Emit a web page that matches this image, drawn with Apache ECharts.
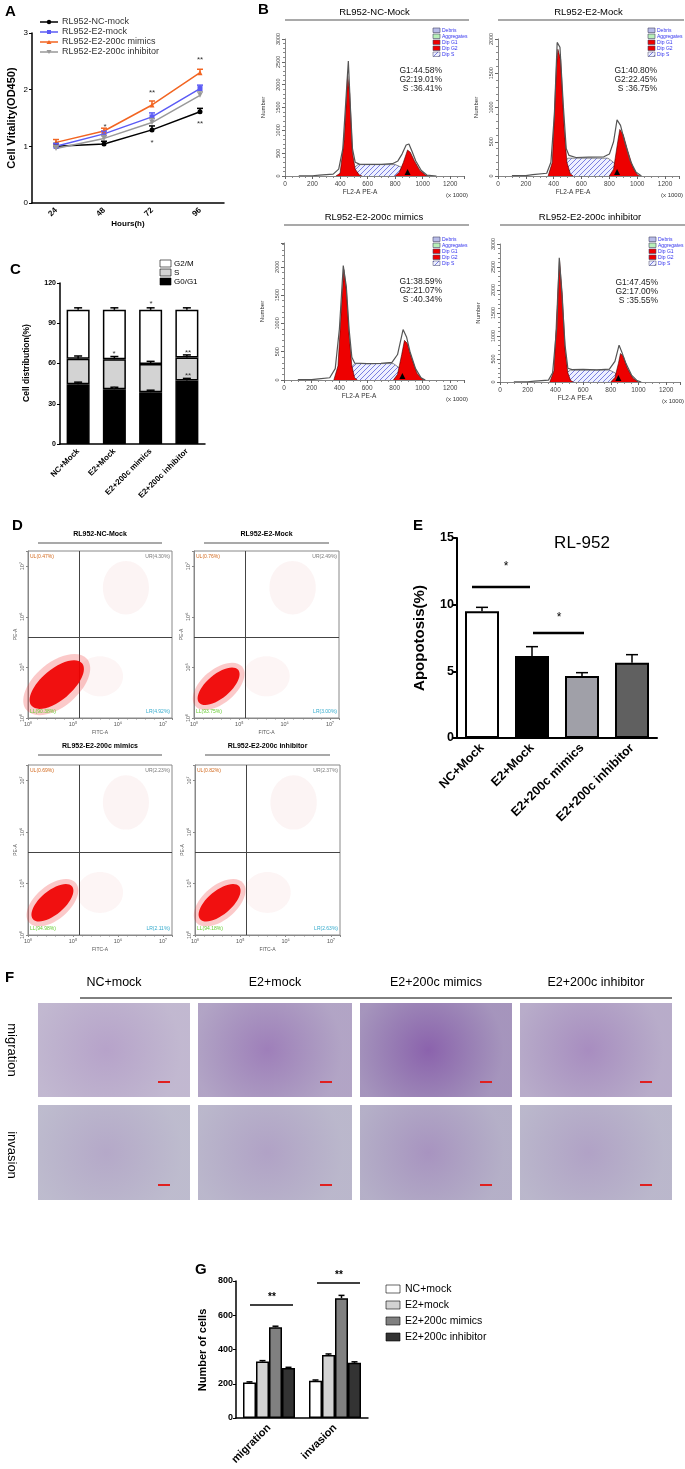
<!DOCTYPE html>
<html><head><meta charset="utf-8">
<script src="https://cdn.jsdelivr.net/npm/echarts@6/dist/echarts.min.js"></script>
<style>html,body{margin:0;padding:0;background:#fff}#c{width:685px;height:1469px}</style>
</head><body><div id="c"></div>
<script>
// ---------- DATA ----------
var hours = ['24','48','72','96'];
var vitNC = [1.0, 1.04, 1.29, 1.61];
var vitE2 = [1.0, 1.22, 1.52, 2.02];
var vitMim = [1.07, 1.27, 1.73, 2.30];
var vitInh = [0.96, 1.14, 1.42, 1.90];
var vitErr = [0.05, 0.05, 0.07, 0.06];
var groupsC = ['NC+Mock','E2+Mock','E2+200c mimics','E2+200c inhibitor'];
var g0g1 = [44.6, 40.8, 38.6, 47.4];
var sPhase = [19.0, 22.4, 21.0, 17.0];
var g2m = [36.4, 36.8, 40.4, 35.6];
var cErr = [1.5, 2, 1.5];
var histNames = ['RL952-NC-Mock','RL952-E2-Mock','RL952-E2-200c mimics','RL952-E2-200c inhibitor'];
var histStats = [['G1:44.58%','G2:19.01%','S :36.41%'],['G1:40.80%','G2:22.45%','S :36.75%'],['G1:38.59%','G2:21.07%','S :40.34%'],['G1:47.45%','G2:17.00%','S :35.55%']];
var histMax = [3000, 2000, 2420, 3000];
var envNC = [[100,5],[200,5],[250,20],[350,40],[390,150],[420,600],[445,1800],[460,2520],[475,1500],[490,600],[510,300],[540,260],[600,255],[700,255],[780,270],[820,330],[850,480],[880,680],[900,700],[920,560],[950,330],[990,120],[1030,20],[1100,0]];
var g1NC = [[370,0],[400,60],[430,800],[455,2200],[470,1800],[490,500],[510,150],[540,20],[560,0]];
var g2NC = [[800,0],[830,80],[860,300],[890,570],[910,520],[940,330],[980,120],[1020,20],[1040,0]];
var sNC = [[470,0],[500,180],[530,250],[600,250],[700,250],[800,250],[840,200],[880,100],[920,20],[940,0]];
var envE2 = [[100,5],[200,5],[250,20],[350,40],[380,200],[405,900],[425,1950],[445,1880],[470,1000],[490,400],[510,300],[560,270],[650,275],[760,280],[800,320],[830,500],[855,820],[880,740],[910,500],[950,220],[990,60],[1030,0]];
var g1E2 = [[360,0],[390,200],[420,1600],[430,1850],[450,1700],[475,700],[495,200],[520,30],[540,0]];
var g2E2 = [[800,0],[830,100],[860,500],[875,680],[900,600],[930,380],[970,120],[1000,20],[1020,0]];
var sE2 = [[440,0],[470,150],[500,260],[600,260],[700,260],[790,260],[830,200],[870,100],[910,20],[930,0]];
var envMim = [[100,5],[200,5],[250,20],[330,40],[370,200],[400,900],[428,2020],[450,1650],[470,900],[490,400],[510,300],[600,290],[700,295],[780,310],[820,450],[860,890],[885,760],[910,500],[950,200],[990,40],[1020,0]];
var g1Mim = [[360,0],[390,250],[420,1500],[432,1950],[450,1600],[470,800],[490,250],[510,40],[530,0]];
var g2Mim = [[790,0],[820,100],[850,450],[870,700],[890,650],[920,400],[960,120],[1000,10],[1020,0]];
var sMim = [[440,0],[480,200],[510,290],[600,290],[700,290],[790,290],[830,220],[870,100],[900,20],[920,0]];
var envInh = [[100,5],[200,5],[250,20],[350,40],[380,200],[410,1200],[428,2700],[445,2000],[470,800],[490,300],[520,270],[600,275],[700,265],[790,280],[830,450],[860,800],[880,650],[910,400],[950,150],[990,30],[1020,0]];
var g1Inh = [[360,0],[390,250],[418,2000],[430,2650],[450,1900],[470,700],[490,200],[510,30],[530,0]];
var g2Inh = [[800,0],[830,100],[855,400],[870,620],[890,560],[920,300],[960,80],[1000,0]];
var sInh = [[440,0],[480,200],[510,260],[600,260],[700,260],[790,260],[830,200],[870,80],[900,10],[920,0]];
var quadLabels = [['UL(0.47%)','UR(4.30%)','LL(90.38%)','LR(4.92%)'],['UL(0.76%)','UR(2.49%)','LL(93.75%)','LR(3.00%)'],['UL(0.69%)','UR(2.23%)','LL(94.98%)','LR(2.11%)'],['UL(0.82%)','UR(2.37%)','LL(94.18%)','LR(2.63%)']];
var apop = [9.5, 6.15, 4.65, 5.65];
var apopErr = [0.3, 0.7, 0.25, 0.6];
var groupsF = ['NC+mock','E2+mock','E2+200c mimics','E2+200c inhibitor'];
var assays = ['migration','invasion'];
var cellsNC = [207, 218];
var cellsE2 = [330, 368];
var cellsMim = [530, 700];
var cellsInh = [292, 322];
var cellsErr = [[4,4],[5,6],[6,16],[4,6]];

// ---------- HELPERS ----------
var F = 'Liberation Sans, Arial, sans-serif';
var hatch = document.createElement('canvas'); hatch.width = 5; hatch.height = 5;
(function(){var x=hatch.getContext('2d');x.fillStyle='#eef0ff';x.fillRect(0,0,5,5);x.strokeStyle='#5b62d8';x.lineWidth=0.8;x.beginPath();x.moveTo(0,5);x.lineTo(5,0);x.stroke();})();

function errSeries(xi, yi, vals, errs, offset, capW, color){
  return {type:'custom', xAxisIndex:xi, yAxisIndex:yi, z:5, silent:true,
    data: vals.map(function(v,i){return [i, v, v+errs[i]];}),
    renderItem:function(p,api){
      var a=api.coord([api.value(0),api.value(1)]), b=api.coord([api.value(0),api.value(2)]);
      var x=a[0]+(offset||0);
      return {type:'group',children:[
        {type:'line',shape:{x1:x,y1:a[1],x2:x,y2:b[1]},style:{stroke:color||'#000',lineWidth:1.5}},
        {type:'line',shape:{x1:x-capW,y1:b[1],x2:x+capW,y2:b[1]},style:{stroke:color||'#000',lineWidth:1.5}}]};
    }};
}
function txt(x,y,t,o){o=o||{};return {type:'text',x:x,y:y,rotation:o.rot||0,z:50,style:{text:t,font:(o.w||'normal')+' '+(o.s||10)+'px '+F,fill:o.c||'#000',textAlign:o.a||'left',textVerticalAlign:o.v||'middle'}};}
function ln(x1,y1,x2,y2,w,c){return {type:'line',z:50,shape:{x1:x1,y1:y1,x2:x2,y2:y2},style:{stroke:c||'#000',lineWidth:w||1}};}
function rc(x,y,w,h,fill,stroke){return {type:'rect',z:50,shape:{x:x,y:y,width:w,height:h},style:{fill:fill,stroke:stroke||null,lineWidth:0.6}};}

var grids=[], xAxes=[], yAxes=[], series=[], G=[];
var axisBlack={lineStyle:{color:'#000',width:1.5}};

// ---------- A ----------
grids.push({left:32, top:33, width:192, height:170});
xAxes.push({gridIndex:0,type:'category',data:hours,axisLine:axisBlack,axisTick:{lineStyle:{color:'#000',width:1.5},alignWithLabel:true},axisLabel:{rotate:45,fontFamily:F,fontWeight:'bold',fontSize:8,color:'#000',margin:6}});
yAxes.push({gridIndex:0,type:'value',min:0,max:3,interval:1,splitLine:{show:false},axisLine:{show:true,lineStyle:{color:'#000',width:1.5}},axisTick:{show:true,length:3},axisLabel:{fontFamily:F,fontSize:8,color:'#000',margin:4}});
var aCol=['#000','#5b5bf5','#f26522','#999'], aSym=['circle','rect','triangle','triangle'], aNames=['RL952-NC-mock','RL952-E2-mock','RL952-E2-200c mimics','RL952-E2-200c inhibitor'];
[vitNC,vitE2,vitMim,vitInh].forEach(function(d,i){
  series.push({type:'line',name:aNames[i],xAxisIndex:0,yAxisIndex:0,data:d,symbol:aSym[i],symbolRotate:i==3?180:0,symbolSize:5,itemStyle:{color:aCol[i]},lineStyle:{color:aCol[i],width:1.5},z:4});
  series.push(errSeries(0,0,d,vitErr,0,3,aCol[i]));
  G.push(ln(40,22+i*10,58,22+i*10,1.5,aCol[i]));
  G.push(txt(62,22+i*10,aNames[i],{s:9,c:'#333'}));
});
G.push({type:'circle',z:51,shape:{cx:49,cy:22,r:2.2},style:{fill:'#000'}});
G.push(rc(47,30,4,4,'#5b5bf5'));
G.push({type:'polygon',z:51,shape:{points:[[49,40],[46.5,44],[51.5,44]]},style:{fill:'#f26522'}});
G.push({type:'polygon',z:51,shape:{points:[[49,54],[46.5,50],[51.5,50]]},style:{fill:'#999'}});
G.push(txt(12,118,'Cell Vitality(OD450)',{rot:Math.PI/2,w:'bold',s:11,a:'center'}));
G.push(txt(128,224,'Hours(h)',{w:'bold',s:8,a:'center'}));
[[105,127,'*'],[152,93,'**'],[152,143,'*'],[200,60,'**'],[200,124,'**']].forEach(function(s){G.push(txt(s[0],s[1],s[2],{s:8,c:'#333',a:'center'}));});
G.push(txt(5,12,'A',{w:'bold',s:15}));

// ---------- B ----------
var hLayout=[[285,39,464,176],[498,39,679,176],[284,243,464,380],[500,244,680,382]];
var hData=[[envNC,g1NC,g2NC,sNC],[envE2,g1E2,g2E2,sE2],[envMim,g1Mim,g2Mim,sMim],[envInh,g1Inh,g2Inh,sInh]];
hLayout.forEach(function(L,k){
  var gi=grids.length;
  grids.push({left:L[0],top:L[1],width:L[2]-L[0],height:L[3]-L[1]});
  xAxes.push({gridIndex:gi,type:'value',min:0,max:1300,interval:200,splitLine:{show:false},axisLine:{lineStyle:{color:'#666',width:0.8}},axisTick:{length:3,lineStyle:{color:'#666'}},minorTick:{show:true,splitNumber:4,length:2,lineStyle:{color:'#888'}},axisLabel:{fontFamily:F,fontSize:6.5,color:'#444',margin:5,formatter:function(v){return v>1200?'':String(v);}}});
  yAxes.push({gridIndex:gi,type:'value',min:0,max:histMax[k],interval:500,splitLine:{show:false},axisLine:{show:true,lineStyle:{color:'#666',width:0.8}},axisTick:{show:true,length:3,lineStyle:{color:'#666'}},minorTick:{show:true,splitNumber:5,length:2,lineStyle:{color:'#888'}},axisLabel:{fontFamily:F,fontSize:5.5,color:'#444',rotate:90,margin:4,formatter:function(v){return v%500?'':String(v);}}});
  var d=hData[k];
  series.push({type:'line',xAxisIndex:gi,yAxisIndex:gi,data:d[3],symbol:'none',lineStyle:{color:'#444',width:0.6},areaStyle:{color:{image:hatch,repeat:'repeat'},opacity:1},z:2});
  series.push({type:'line',xAxisIndex:gi,yAxisIndex:gi,data:d[1],symbol:'none',lineStyle:{color:'#400',width:0.6},areaStyle:{color:'#ee0000',opacity:1},z:3});
  series.push({type:'line',xAxisIndex:gi,yAxisIndex:gi,data:d[2],symbol:'none',lineStyle:{color:'#400',width:0.6},areaStyle:{color:'#ee0000',opacity:1},z:3});
  series.push({type:'line',xAxisIndex:gi,yAxisIndex:gi,data:d[0],symbol:'none',lineStyle:{color:'#555',width:1.2},z:4});
  var cx=(L[0]+L[2])/2;
  var tY = k<2?12:217;
  G.push(txt(cx,tY,histNames[k],{s:9.5,a:'center'}));
  G.push(ln(L[0],tY+8,L[2]+5,tY+8,1.2,'#555'));
  var lx=L[2]-31, ly=tY+16+(k<2?0:4);
  var lc=['#b8bce8','#b8f0b8','#ee0000','#ee0000',null], ln2=['Debris','Aggregates','Dip G1','Dip G2','Dip S'];
  for(var j=0;j<5;j++){
    G.push(j==4?{type:'rect',z:50,shape:{x:lx,y:ly+j*6,width:7,height:4.5},style:{fill:{image:hatch,repeat:'repeat'},stroke:'#446',lineWidth:0.5}}:rc(lx,ly+j*6,7,4.5,lc[j],'#446'));
    G.push(txt(lx+9,ly+j*6+2.3,ln2[j],{s:5,c:'#3333ee'}));
  }
  var sx=L[2]-22, sy=L[1]+32+(k>1?7:0);
  histStats[k].forEach(function(s,j){G.push(txt(sx,sy+j*9,s,{s:8.5,c:'#222',a:'right'}));});
  G.push(txt(L[0]+75,L[3]+16,'FL2-A PE-A',{s:6.5,c:'#333',a:'center'}));
  G.push(txt(L[2]-7,L[3]+19,'(x 1000)',{s:6,c:'#333',a:'center'}));
  G.push(txt(L[0]-22,(L[1]+L[3])/2,'Number',{s:6,c:'#333',a:'center',rot:Math.PI/2}));
  var mx=L[0]+(L[2]-L[0])*( (k==0?890:855)/1300);
  G.push({type:'polygon',z:51,shape:{points:[[mx,L[3]-7],[mx-3,L[3]-1],[mx+3,L[3]-1]]},style:{fill:'#000'}});
});
G.push(txt(258,10,'B',{w:'bold',s:15}));

// ---------- C ----------
var ci=grids.length;
grids.push({left:60,top:283,width:145,height:161});
xAxes.push({gridIndex:ci,type:'category',data:groupsC,axisLine:axisBlack,axisTick:{alignWithLabel:true,lineStyle:{color:'#000',width:1.5}},axisLabel:{rotate:45,interval:0,fontFamily:F,fontWeight:'bold',fontSize:8,color:'#000',margin:6}});
yAxes.push({gridIndex:ci,type:'value',min:0,max:120,interval:30,splitLine:{show:false},axisLine:{show:true,lineStyle:{color:'#000',width:1.5}},axisTick:{show:true,length:3},axisLabel:{fontFamily:F,fontSize:7,fontWeight:'bold',color:'#000',margin:4}});
var cCols=['#000','#d3d3d3','#fff'];
var s1=g0g1.map(function(v,i){return v+sPhase[i];}), s2=s1.map(function(v,i){return v+g2m[i];});
[g0g1,sPhase,g2m].forEach(function(d,j){
  series.push({type:'bar',stack:'c',xAxisIndex:ci,yAxisIndex:ci,data:d,barWidth:23,itemStyle:{color:cCols[j],borderColor:'#000',borderWidth:1.5},z:3});
});
[g0g1,s1,s2].forEach(function(d,j){series.push(errSeries(ci,ci,d,d.map(function(){return cErr[j];}),0,4,'#000'));});
G.push(rc(160,260,11,7,'#fff','#000'),rc(160,269,11,7,'#d3d3d3','#000'),rc(160,278,11,7,'#000','#000'));
G.push(txt(174,263.5,'G2/M',{s:8}),txt(174,272.5,'S',{s:8}),txt(174,281.5,'G0/G1',{s:8}));
G.push(txt(27,363,'Cell distribution(%)',{rot:Math.PI/2,w:'bold',s:8.5,a:'center'}));
[[114,354,'*'],[114,389,'*'],[151,304,'*'],[188,353,'**'],[188,376,'**']].forEach(function(s){G.push(txt(s[0],s[1],s[2],{s:8,c:'#333',a:'center'}));});
G.push(txt(10,270,'C',{w:'bold',s:15}));

// ---------- D ----------
var dLayout=[[28,551,172,718],[194,551,339,718],[28,765,172,935],[195,765,340,935]];
var expLab=['10⁰','10⁵','10⁶','10⁷'];
dLayout.forEach(function(L,k){
  var gi=grids.length;
  grids.push({left:L[0],top:L[1],width:L[2]-L[0],height:L[3]-L[1],show:true,borderColor:'#888',borderWidth:1});
  xAxes.push({gridIndex:gi,type:'value',min:0,max:3.2,interval:1,splitLine:{show:false},axisLine:{lineStyle:{color:'#888'}},axisTick:{length:2,lineStyle:{color:'#888'}},minorTick:{show:true,splitNumber:5,length:1.5},axisLabel:{fontFamily:F,fontSize:5.5,color:'#555',margin:3,formatter:function(v){return expLab[v]||'';}}});
  yAxes.push({gridIndex:gi,type:'value',min:0,max:3.3,interval:1,splitLine:{show:false},axisLine:{show:true,lineStyle:{color:'#888'}},axisTick:{show:true,length:2,lineStyle:{color:'#888'}},axisLabel:{fontFamily:F,fontSize:5.5,color:'#555',margin:3,rotate:90,formatter:function(v){return expLab[v]||'';}}});
  series.push({type:'scatter',xAxisIndex:gi,yAxisIndex:gi,data:[],markLine:{silent:true,symbol:'none',label:{show:false},lineStyle:{color:'#444',width:1,type:'solid'},data:[{xAxis:1.13},{yAxis:1.6}]}});
  var w=L[2]-L[0], h=L[3]-L[1];
  var tY=k<2?534:746;
  G.push(txt((L[0]+L[2])/2,tY,histNames[k],{s:7,w:'bold',a:'center'}));
  G.push(ln(L[0]+10,tY+9,L[2]-10,tY+9,1.2,'#555'));
  var q=quadLabels[k];
  G.push(txt(L[0]+2,L[1]+6,q[0],{s:5,c:'#d2691e'}),txt(L[2]-2,L[1]+6,q[1],{s:5,c:'#777',a:'right'}),txt(L[0]+2,L[3]-6,q[2],{s:5,c:'#66cc33'}),txt(L[2]-2,L[3]-6,q[3],{s:5,c:'#33aacc',a:'right'}));
  G.push(txt((L[0]+L[2])/2,L[3]+15,'FITC-A',{s:5,c:'#555',a:'center'}));
  G.push(txt(L[0]-12,L[1]+h*0.5,'PE-A',{s:5,c:'#555',a:'center',rot:Math.PI/2}));
  var big=k==0?1.1:0.85;
  var ccx=L[0]+w*(k==0?0.2:0.17), ccy=L[1]+h*(k==0?0.8:0.81);
  G.push({type:'ellipse',z:39,x:ccx,y:ccy,rotation:0.7,shape:{cx:0,cy:0,rx:36*big,ry:20*big},style:{fill:'rgba(240,40,40,0.25)'}});
  G.push({type:'ellipse',z:40,x:ccx,y:ccy,rotation:0.7,shape:{cx:0,cy:0,rx:30*big,ry:14*big},style:{fill:'rgba(240,0,0,0.92)'}});
  G.push({type:'ellipse',z:39,shape:{cx:L[0]+w*0.68,cy:L[1]+h*0.22,rx:w*0.16,ry:h*0.16},style:{fill:'rgba(210,60,60,0.06)'}});
  G.push({type:'ellipse',z:39,shape:{cx:L[0]+w*0.5,cy:L[1]+h*0.75,rx:w*0.16,ry:h*0.12},style:{fill:'rgba(210,60,60,0.05)'}});
});
G.push(txt(12,526,'D',{w:'bold',s:15}));

// ---------- E ----------
var ei=grids.length;
grids.push({left:457,top:538,width:200,height:200});
xAxes.push({gridIndex:ei,type:'category',data:groupsC,axisLine:{lineStyle:{color:'#000',width:2}},axisTick:{alignWithLabel:true,lineStyle:{color:'#000',width:2}},axisLabel:{rotate:45,interval:0,fontFamily:F,fontWeight:'bold',fontSize:12.5,color:'#000',margin:8}});
yAxes.push({gridIndex:ei,type:'value',min:0,max:15,interval:5,splitLine:{show:false},axisLine:{show:true,lineStyle:{color:'#000',width:2}},axisTick:{show:true,length:4,lineStyle:{width:2}},axisLabel:{fontFamily:F,fontSize:12.5,fontWeight:'bold',color:'#000',margin:3}});
series.push(errSeries(ei,ei,apop,apopErr,0,6,'#000'));
series.push({type:'bar',xAxisIndex:ei,yAxisIndex:ei,data:apop.map(function(v,i){return {value:v,itemStyle:{color:['#fff','#000','#a0a0a8','#606060'][i]}};}),barWidth:34,itemStyle:{borderColor:'#000',borderWidth:2},z:3});
G.push(txt(420,638,'Apopotosis(%)',{rot:Math.PI/2,w:'bold',s:15,a:'center'}));
G.push(txt(582,543,'RL-952',{s:17,a:'center'}));
G.push(ln(472,587,530,587,2.5),txt(506,567,'*',{s:12,a:'center'}));
G.push(ln(533,633,584,633,2.5),txt(559,618,'*',{s:12,a:'center'}));
G.push(txt(413,526,'E',{w:'bold',s:15}));

// ---------- F ----------
var colsF=[[38,190],[198,352],[360,512],[520,672]];
var rowsF=[[1003,1097],[1105,1200]];
colsF.forEach(function(c,i){
  G.push(txt((c[0]+c[1])/2,983,groupsF[i],{s:12.5,a:'center'}));
  rowsF.forEach(function(r,j){
    var dens=j==0?[0.35,0.6,0.8,0.5][i]:[0.3,0.35,0.45,0.35][i];
    var base=j==0?'#d8d4e0':'#cfd3da';
    G.push({type:'rect',z:30,shape:{x:c[0],y:r[0],width:c[1]-c[0],height:r[1]-r[0]},style:{fill:{type:'radial',x:0.45,y:0.5,r:0.8,colorStops:[{offset:0,color:'rgba(120,70,160,'+dens+')'},{offset:1,color:'rgba(110,80,150,'+(dens*0.6)+')'}]},stroke:null}});
    G.push({type:'rect',z:29,shape:{x:c[0],y:r[0],width:c[1]-c[0],height:r[1]-r[0]},style:{fill:base}});
    G.push(ln(c[1]-32,r[1]-15,c[1]-20,r[1]-15,2,'#e02020'));
  });
});
G.push(ln(80,998,672,998,1));
G.push(txt(12,1050,'migration',{rot:-Math.PI/2,s:13,a:'center'}));
G.push(txt(12,1155,'invasion',{rot:-Math.PI/2,s:13,a:'center'}));
G.push(txt(5,978,'F',{w:'bold',s:15}));

// ---------- G ----------
var gi2=grids.length;
grids.push({left:236,top:1281,width:132,height:137});
xAxes.push({gridIndex:gi2,type:'category',data:assays,axisLine:axisBlack,axisTick:{alignWithLabel:true,lineStyle:{color:'#000',width:1.5}},axisLabel:{rotate:45,interval:0,fontFamily:F,fontWeight:'bold',fontSize:11,color:'#000',margin:8}});
yAxes.push({gridIndex:gi2,type:'value',min:0,max:800,interval:200,splitLine:{show:false},axisLine:{show:true,lineStyle:{color:'#000',width:1.5}},axisTick:{show:true,length:3},axisLabel:{fontFamily:F,fontSize:9,fontWeight:'bold',color:'#000',margin:3}});
var gCols=['#fff','#d3d3d3','#808080','#333'];
[cellsNC,cellsE2,cellsMim,cellsInh].forEach(function(d,i){
  series.push({type:'bar',name:groupsF[i],xAxisIndex:gi2,yAxisIndex:gi2,data:d,barWidth:13,barGap:'0%',itemStyle:{color:gCols[i],borderColor:'#000',borderWidth:1.5},z:3});
});
[cellsNC,cellsE2,cellsMim,cellsInh].forEach(function(d,i){series.push(errSeries(gi2,gi2,d,cellsErr[i],(i-1.5)*13,3,'#000'));});
G.push(ln(250,1305,293,1305,1.5),txt(272,1297,'**',{s:10,w:'bold',a:'center'}));
G.push(ln(317,1283,360,1283,1.5),txt(339,1275,'**',{s:10,w:'bold',a:'center'}));
G.push(txt(203,1350,'Number of cells',{rot:Math.PI/2,w:'bold',s:11,a:'center'}));
groupsF.forEach(function(n,i){G.push(rc(386,1285+i*16,14,8,gCols[i],'#000'));G.push(txt(405,1289+i*16,n,{s:10.5}));});
G.push(txt(195,1270,'G',{w:'bold',s:15}));

var chart=echarts.init(document.getElementById('c'),null,{renderer:'canvas'});
chart.setOption({animation:false,backgroundColor:'#fff',textStyle:{fontFamily:F},grid:grids,xAxis:xAxes,yAxis:yAxes,series:series,graphic:G});
</script></body></html>
